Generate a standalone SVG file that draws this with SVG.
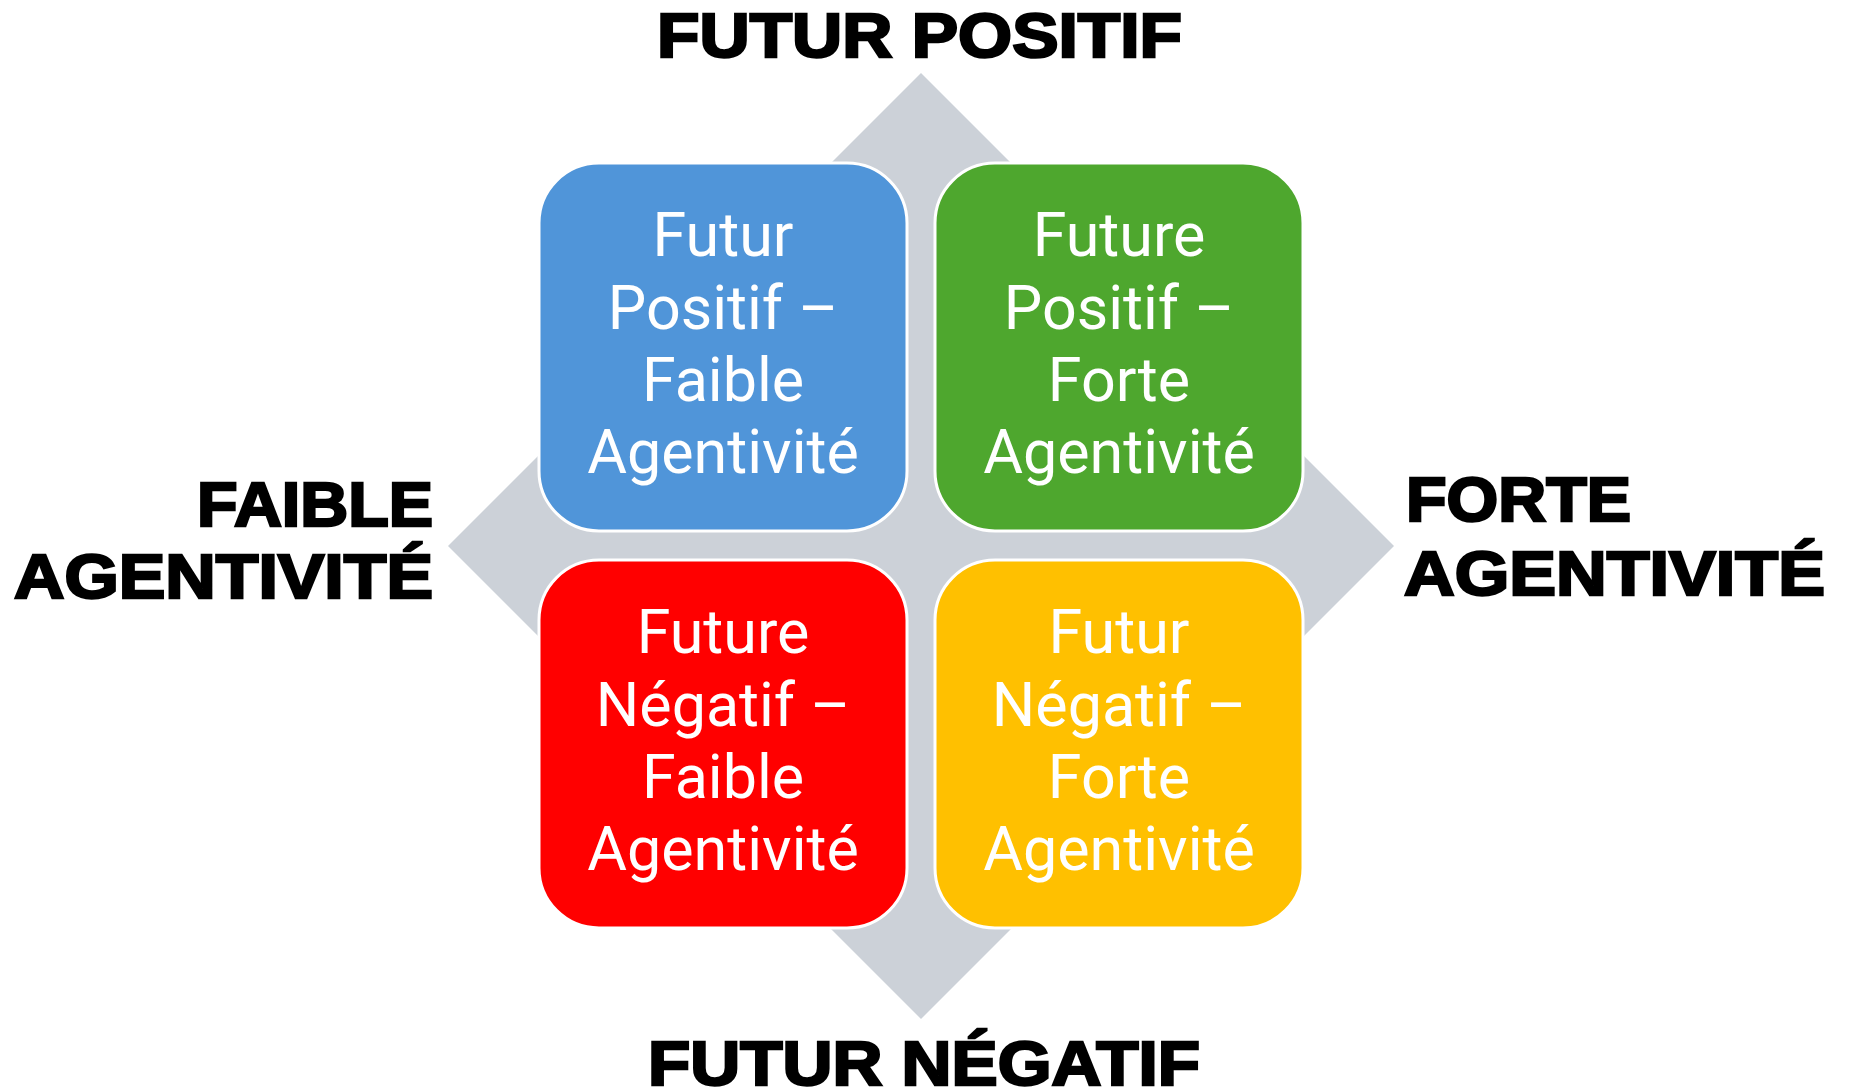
<svg xmlns="http://www.w3.org/2000/svg" width="1852" height="1091" viewBox="0 0 1852 1091">
<style>
.box{stroke:#ffffff;stroke-width:3}
.bt{font-family:Roboto,"Noto Sans",sans-serif;font-size:61px;fill:#ffffff;text-anchor:middle}
.ax{font-family:"Liberation Sans",Arial,sans-serif;font-weight:bold;font-size:63px;fill:#000;stroke:#000;stroke-width:2.5}
</style>
<rect width="1852" height="1091" fill="#ffffff"/>
<g id="background">
<polygon points="921,73 1394,546 921,1019 448,546" fill="#CCD1D8"/>
</g>
<g id="connectors"></g>
<g id="node-blue">
<rect class="box" x="539" y="163" width="368" height="368" rx="60" fill="#5095D9"/>
<text class="bt" x="723" y="256">Futur<tspan x="723" dy="73">Positif –</tspan><tspan x="723" dy="72">Faible</tspan><tspan x="723" dy="72">Agentivité</tspan></text>
</g>
<g id="node-green">
<rect class="box" x="935" y="163" width="368" height="368" rx="60" fill="#4EA72E"/>
<text class="bt" x="1119" y="256">Future<tspan x="1119" dy="73">Positif –</tspan><tspan x="1119" dy="72">Forte</tspan><tspan x="1119" dy="72">Agentivité</tspan></text>
</g>
<g id="node-red">
<rect class="box" x="539" y="560" width="368" height="368" rx="60" fill="#FF0000"/>
<text class="bt" x="723" y="653">Future<tspan x="723" dy="73">Négatif –</tspan><tspan x="723" dy="72">Faible</tspan><tspan x="723" dy="72">Agentivité</tspan></text>
</g>
<g id="node-yellow">
<rect class="box" x="935" y="560" width="368" height="368" rx="60" fill="#FFC000"/>
<text class="bt" x="1119" y="653">Futur<tspan x="1119" dy="73">Négatif –</tspan><tspan x="1119" dy="72">Forte</tspan><tspan x="1119" dy="72">Agentivité</tspan></text>
</g>
<g id="label-top">
<text class="ax" x="657" y="57" textLength="525" lengthAdjust="spacingAndGlyphs">FUTUR POSITIF</text>
</g>
<g id="label-bottom">
<text class="ax" x="648" y="1085" textLength="552" lengthAdjust="spacingAndGlyphs">FUTUR NÉGATIF</text>
</g>
<g id="label-left">
<text class="ax" x="197" y="526" textLength="236" lengthAdjust="spacingAndGlyphs">FAIBLE</text>
<text class="ax" x="14" y="598" textLength="419" lengthAdjust="spacingAndGlyphs">AGENTIVITÉ</text>
</g>
<g id="label-right">
<text class="ax" x="1406" y="521" textLength="225" lengthAdjust="spacingAndGlyphs">FORTE</text>
<text class="ax" x="1404" y="595" textLength="421" lengthAdjust="spacingAndGlyphs">AGENTIVITÉ</text>
</g>
</svg>
